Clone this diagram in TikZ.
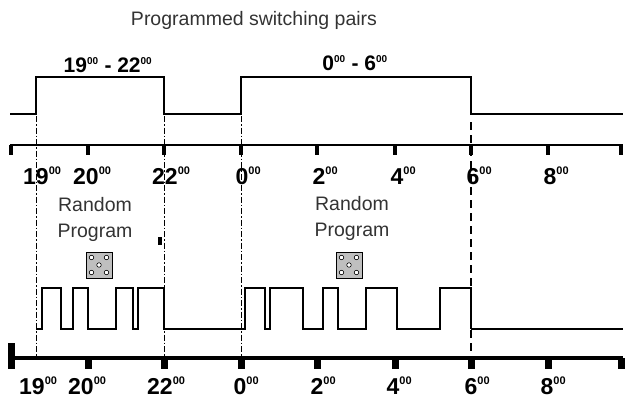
\documentclass[tikz,border=0pt]{standalone}
\usepackage{fontspec}
\setmainfont{Liberation Sans}
\usetikzlibrary{calc}
\newcommand{\tklab}[1]{{\fontsize{23}{24}\selectfont\bfseries #1\rlap{\textsuperscript{\fontsize{11}{11}\selectfont 00}}}}
\newcommand{\pllab}[1]{{#1\textsuperscript{\fontsize{10}{10}\selectfont 00}}}
\begin{document}
\begin{tikzpicture}[x=1pt,y=-1pt,
  sig/.style={line width=2.6pt, line join=miter},
  thinsig/.style={line width=1.2pt},
  dashdot/.style={line width=0.8pt, dash pattern=on 6pt off 2pt on 1.5pt off 2pt},
  sixline/.style={line width=2.4pt, dash pattern=on 8pt off 5pt},
  tickmark/.style={line width=4pt},
  btick/.style={line width=7pt},
  tlab/.style={inner sep=0pt, anchor=base},
  plab/.style={font=\fontsize{21}{22}\selectfont\bfseries, inner sep=0pt, anchor=base},
  txt/.style={font=\fontsize{19.5}{26}\selectfont, text=black!80, inner sep=0pt, align=center},
  dice/.style={draw=black, line width=1pt, fill=black!25, minimum size=26pt, inner sep=0pt},
  dot/.style={draw=black, line width=0.6pt, fill=white, circle, inner sep=0pt, minimum size=4.5pt}
]
\useasboundingbox (0,0) rectangle (625,399);

% title
\node[txt] (title) at (254,20) {Programmed switching pairs};

% pulse labels
\node[plab] (p1) at (108,72) {\pllab{19} - \pllab{22}};
\node[plab] (p2) at (355,70) {\pllab{0} - \pllab{6}};

% top programmed signal
\draw[sig] (10,114) -- (36,114) -- (36,77) -- (164,77) -- (164,114) -- (241,114) -- (241,77) -- (471,77) -- (471,114) -- (623,114);

% top axis
\draw[line width=1.6pt] (10,145) -- (623,145);
\foreach \x in {11,88,164,241,317,395,471,548,621}
  \draw[tickmark] (\x,145) -- (\x,155);

% top tick labels
\node[tlab] (t19) at (36,184) {\tklab{19}};
\node[tlab] (t20) at (86,184) {\tklab{20}};
\node[tlab] (t22) at (165,184) {\tklab{22}};
\node[tlab] (t0)  at (242,184) {\tklab{0}};
\node[tlab] (t2)  at (319,184) {\tklab{2}};
\node[tlab] (t4)  at (397,184) {\tklab{4}};
\node[tlab] (t6)  at (473,184) {\tklab{6}};
\node[tlab] (t8)  at (550,184) {\tklab{8}};

% vertical dash-dot lines
\draw[dashdot] (36,116) -- (36,356);
\draw[dashdot] (164,116) -- (164,356);
\draw[dashdot] (241,116) -- (241,356);
\draw[sixline] (471,122) -- (471,356);

% random program texts
\node[txt] (r1) at (95,219) {Random\\Program};
\node[txt] (r2) at (352,218) {Random\\Program};

% dice
\foreach \cx/\nm in {99/d1,349/d2}{
  \node[dice] (\nm) at (\cx,265) {};
  \foreach \dx/\dy in {-7.5/-7.5,7.5/-7.5,-7.5/7.5,7.5/7.5,0/0}
    \node[dot] at ($(\nm)+(\dx,\dy)$) {};
}

% small mark
\fill (158,237) rectangle (162,245);

% random signal
\draw[sig] (36,329) -- (42,329) -- (42,288) -- (61,288) -- (61,329) -- (73,329) -- (73,288) -- (88,288) -- (88,329) -- (116,329) -- (116,288) -- (133,288) -- (133,329) -- (138,329) -- (138,288) -- (164,288) -- (164,329) -- (245,329) -- (245,288) -- (265,288) -- (265,329) -- (270,329) -- (270,288) -- (303,288) -- (303,329) -- (323,329) -- (323,288) -- (338,288) -- (338,329) -- (366,329) -- (366,288) -- (397,288) -- (397,329) -- (440,329) -- (440,288) -- (471,288) -- (471,329);
\draw[thinsig] (471,329) -- (623,329);

% bottom axis
\draw[line width=4.5pt] (10,358) -- (623,358);
\fill (8,343) rectangle (15,369);
\foreach \x in {88,164,241,317,395,471,548,621}
  \draw[btick] (\x,358) -- (\x,369);

% bottom tick labels
\node[tlab] (b19) at (32,394) {\tklab{19}};
\node[tlab] (b20) at (81,394) {\tklab{20}};
\node[tlab] (b22) at (160,394) {\tklab{22}};
\node[tlab] (b0)  at (240,394) {\tklab{0}};
\node[tlab] (b2)  at (317,394) {\tklab{2}};
\node[tlab] (b4)  at (393,394) {\tklab{4}};
\node[tlab] (b6)  at (471,394) {\tklab{6}};
\node[tlab] (b8)  at (547,394) {\tklab{8}};
\end{tikzpicture}
\end{document}
